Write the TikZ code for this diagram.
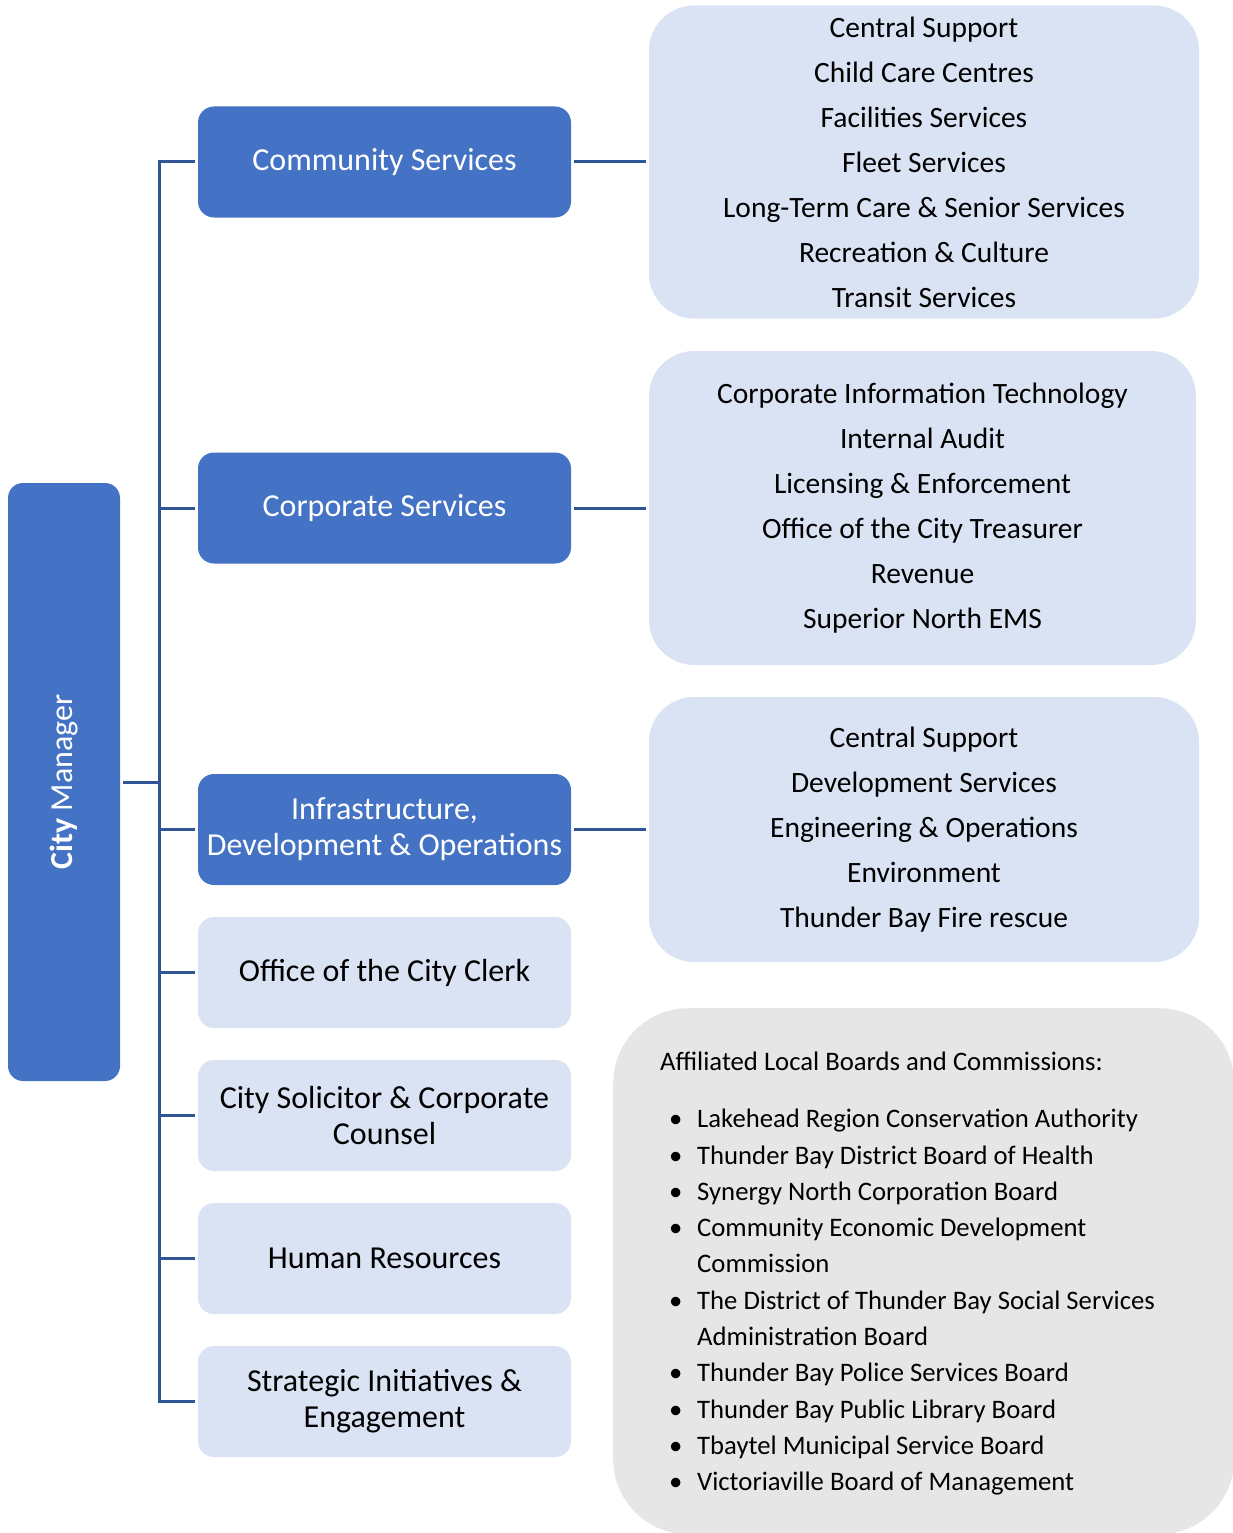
\documentclass[tikz,border=0pt]{standalone}
\usepackage{fontspec}
\setmainfont{Carlito}
\usetikzlibrary{positioning}

\definecolor{darkblue}{HTML}{4472C4}
\definecolor{paleblue}{HTML}{DAE3F3}
\definecolor{palegray}{HTML}{E7E6E6}
\definecolor{linkblue}{HTML}{2F5597}

\begin{document}
\begin{tikzpicture}[x=1pt,y=-1pt]

	\tikzstyle{unit}     = [rectangle, rounded corners=16pt, minimum width=373pt, minimum height=111pt, align=center, outer sep=3pt, font=\fontsize{32}{36}\selectfont]
	\tikzstyle{dept}     = [unit, fill=darkblue, text=white]
	\tikzstyle{office}   = [unit, fill=paleblue, text=black]
	\tikzstyle{sections} = [rectangle, rounded corners=45pt, fill=paleblue, align=center, outer sep=3pt, font=\fontsize{29.5}{45}\selectfont]
	\tikzstyle{link}     = [draw=linkblue, line width=3pt]

	\clip (0,0) rectangle (1233,1533);

	\begin{scope}
		\node [rectangle, rounded corners=15pt, fill=darkblue, text=white, minimum width=112pt, minimum height=598pt, outer sep=3pt, font=\fontsize{32}{36}\selectfont] (cm) at (64,782) {\rotatebox{90}{\textbf{City} Manager}};
		\coordinate (trunk) at (159,782);

		\node [dept] (cs) at (384.5,162) {Community Services};
		\node [dept] (crp) at (384.5,508) {Corporate Services};
		\node [dept] (ido) at (384.5,829.5) {Infrastructure,\\Development \& Operations};
		\node [office] (clerk) [below=26pt of ido] {Office of the City Clerk};
		\node [office] (sol) [below=26pt of clerk] {City Solicitor \& Corporate\\Counsel};
		\node [office] (hr) [below=26pt of sol] {Human Resources};
		\node [office] (sie) [below=26pt of hr] {Strategic Initiatives \&\\Engagement};

		\node [sections, minimum width=550pt, minimum height=313pt] (sec1) [right=72pt of cs] {Central Support\\Child Care Centres\\Facilities Services\\Fleet Services\\Long-Term Care \& Senior Services\\Recreation \& Culture\\Transit Services};
		\node [sections, minimum width=547pt, minimum height=314pt] (sec2) [right=72pt of crp] {Corporate Information Technology\\Internal Audit\\Licensing \& Enforcement\\Office of the City Treasurer\\Revenue\\Superior North EMS};
		\node [sections, minimum width=550pt, minimum height=265pt] (sec3) [right=72pt of ido] {Central Support\\Development Services\\Engineering \& Operations\\Environment\\Thunder Bay Fire rescue};

		% affiliated boards
		\node [rectangle, rounded corners=75pt, fill=palegray, minimum width=621pt, minimum height=526pt, anchor=north west] (boards) at (613,1008) {};
		\node [anchor=base west, inner sep=0pt, font=\fontsize{26.7}{30}\selectfont] (boardstitle) at (660,1070) {Affiliated Local Boards and Commissions:};
		\node [anchor=north west, inner sep=0pt, align=left, font=\fontsize{26.7}{36.3}\selectfont] (boardslist) at (669,1109) {%
			\makebox[28pt][l]{\textbullet}Lakehead Region Conservation Authority\\
			\makebox[28pt][l]{\textbullet}Thunder Bay District Board of Health\\
			\makebox[28pt][l]{\textbullet}Synergy North Corporation Board\\
			\makebox[28pt][l]{\textbullet}Community Economic Development\\
			\hspace*{28pt}Commission\\
			\makebox[28pt][l]{\textbullet}The District of Thunder Bay Social Services\\
			\hspace*{28pt}Administration Board\\
			\makebox[28pt][l]{\textbullet}Thunder Bay Police Services Board\\
			\makebox[28pt][l]{\textbullet}Thunder Bay Public Library Board\\
			\makebox[28pt][l]{\textbullet}Tbaytel Municipal Service Board\\
			\makebox[28pt][l]{\textbullet}Victoriaville Board of Management};
	\end{scope}

	\draw [link] (cm.east) -- (trunk);
	\draw [link] (cs.west) -| (trunk |- sie.west) -- (sie.west);
	\path (trunk |- crp.west) edge [link] (crp.west)
	      (trunk |- ido.west) edge [link] (ido.west)
	      (trunk |- clerk.west) edge [link] (clerk.west)
	      (trunk |- sol.west) edge [link] (sol.west)
	      (trunk |- hr.west) edge [link] (hr.west);
	\path (cs.east) edge [link] (cs.east -| sec1.west)
	      (crp.east) edge [link] (crp.east -| sec2.west)
	      (ido.east) edge [link] (ido.east -| sec3.west);
\end{tikzpicture}
\end{document}
